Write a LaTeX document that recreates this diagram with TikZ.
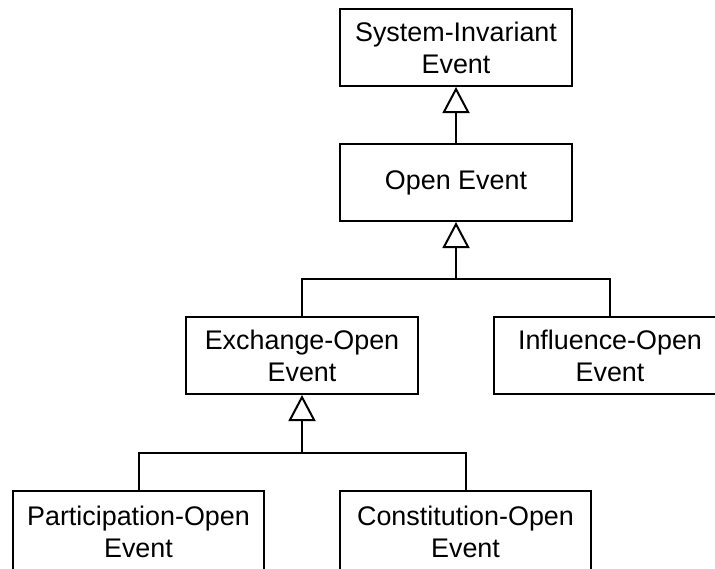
\documentclass[tikz,border=0pt]{standalone}
\usepackage{fontspec}
\setmainfont{Liberation Sans}
\usetikzlibrary{arrows.meta}
\begin{document}
\begin{tikzpicture}[x=1pt,y=-1pt,
  cls/.style={draw=black, line width=2pt, fill=white, align=center,
    minimum width=232pt, minimum height=77pt, inner sep=0pt,
    font=\fontsize{26.9pt}{32pt}\selectfont},
  wide/.style={cls, minimum width=251pt, minimum height=82pt},
  link/.style={draw=black, line width=2pt},
  inherit/.style={link, -{Triangle[open, length=26pt, width=27pt, line width=2pt]}}
]
\useasboundingbox (0,0) rectangle (715,568);

% class boxes
\node[cls]  (sys)   at (456,47.5)   {System-Invariant\\Event};
\node[cls]  (open)  at (456,182.5)  {Open Event};
\node[cls]  (exch)  at (302,355.5)  {Exchange-Open\\Event};
\node[cls]  (infl)  at (610,355.5)  {Influence-Open\\Event};
\node[wide] (part)  at (138.5,532) {Participation-Open\\Event};
\node[wide] (const) at (465.5,532) {Constitution-Open\\Event};

% branching points of the generalisation trees
\coordinate (j1) at (456,279);
\coordinate (j2) at (302,453);

% generalisation links
\draw[inherit] (open.north) -- (sys.south);
\draw[inherit] (j1) -- (open.south);
\draw[link] (exch.north) |- (j1) -| (infl.north);
\draw[inherit] (j2) -- (exch.south);
\draw[link] (part.north) |- (j2) -| (const.north);
\end{tikzpicture}
\end{document}
